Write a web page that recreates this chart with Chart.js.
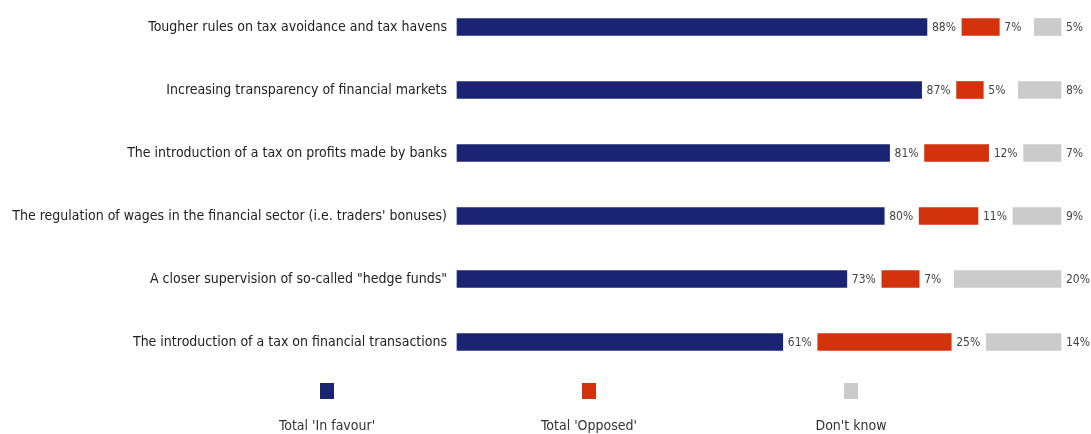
<!DOCTYPE html>
<html><head><meta charset="utf-8">
<script src="https://cdn.jsdelivr.net/npm/chart.js@4"></script>
<style>html,body{margin:0;padding:0;background:#fff}#wrap{width:1091px;height:434px}</style>
</head><body><div id="wrap"><canvas id="c" width="1091" height="434"></canvas></div>
<script>
const categories = [
  "Tougher rules on tax avoidance and tax havens",
  "Increasing transparency of financial markets",
  "The introduction of a tax on profits made by banks",
  "The regulation of wages in the financial sector (i.e. traders' bonuses)",
  "A closer supervision of so-called \"hedge funds\"",
  "The introduction of a tax on financial transactions"
];
const inFavour = [88, 87, 81, 80, 73, 61];
const opposed = [7, 5, 12, 11, 7, 25];
const dontKnow = [5, 8, 7, 9, 20, 14];
const seriesNames = ["Total 'In favour'", "Total 'Opposed'", "Don't know"];
const colors = ["#1b2472", "#d2320c", "#cbcbcb"];
const GAP = 6.55;
const FONT = "'Liberation Sans Narrow', 'DejaVu Sans Condensed', 'Arial Narrow', sans-serif";

const gapData = categories.map(() => GAP);
const datasets = [
  {label: seriesNames[0], data: inFavour, backgroundColor: colors[0], isSeries: true},
  {label: "gap1", data: gapData, backgroundColor: "rgba(0,0,0,0)", isSeries: false},
  {label: seriesNames[1], data: opposed, backgroundColor: colors[1], isSeries: true},
  {label: "gap2", data: gapData, backgroundColor: "rgba(0,0,0,0)", isSeries: false},
  {label: seriesNames[2], data: dontKnow, backgroundColor: colors[2], isSeries: true}
].map(d => Object.assign(d, {barThickness: 17, clip: false, borderWidth: 0}));

const labelPlugin = {
  id: 'vals',
  afterDatasetsDraw(chart) {
    const ctx = chart.ctx;
    ctx.save();
    ctx.font = "12px " + FONT;
    ctx.fillStyle = "#444";
    ctx.textBaseline = "middle";
    ctx.textAlign = "left";
    chart.data.datasets.forEach((ds, i) => {
      if (!ds.isSeries) return;
      const meta = chart.getDatasetMeta(i);
      meta.data.forEach((bar, j) => {
        ctx.fillText(ds.data[j] + "%", bar.x + 5, bar.y + 1);
      });
    });
    // legend
    const centers = [327, 589, 851];
    let k = 0;
    chart.data.datasets.forEach(ds => {
      if (!ds.isSeries) return;
      const cx = centers[k++];
      ctx.fillStyle = ds.backgroundColor;
      ctx.fillRect(cx - 7, 383, 14, 16);
      ctx.fillStyle = "#333";
      ctx.textAlign = "center";
      ctx.font = "14px " + FONT;
      ctx.fillText(ds.label, cx, 426);
    });
    ctx.restore();
  }
};

new Chart(document.getElementById('c'), {
  type: 'bar',
  data: {labels: categories, datasets},
  options: {
    indexAxis: 'y',
    responsive: false,
    animation: false,
    layout: {padding: {top: 27, bottom: 92, right: 30, left: 0}},
    plugins: {legend: {display: false}, tooltip: {enabled: false}},
    scales: {
      x: {stacked: true, min: 0, max: 100 + 2 * GAP, display: false},
      y: {
        stacked: true,
        offset: false,
        grid: {display: false, drawTicks: false, tickLength: 0},
        border: {display: false},
        ticks: {color: "#222", font: {size: 14, family: FONT}, padding: 10},
        afterFit(scale) { scale.width = 457; }
      }
    }
  },
  plugins: [labelPlugin]
});
</script>
</body></html>
